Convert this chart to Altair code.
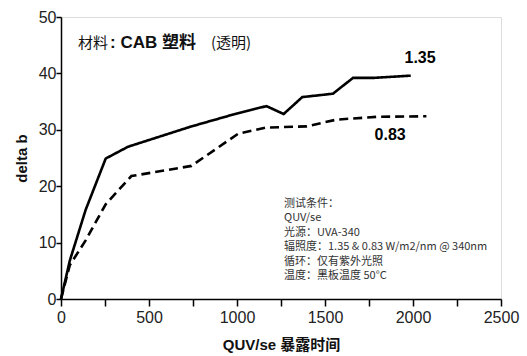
import altair as alt
import pandas as pd

# Exposure hours and yellowing (delta b) at two irradiance levels
hours_135 = [0, 50, 140, 254, 381, 741, 1000, 1167, 1265, 1371, 1545, 1659, 1773, 1987]
delta_135 = [0, 6.8, 15.8, 24.9, 27.0, 30.6, 32.9, 34.2, 32.8, 35.8, 36.4, 39.2, 39.2, 39.6]

hours_083 = [0, 50, 140, 254, 400, 741, 1006, 1167, 1394, 1565, 1792, 2076]
delta_083 = [0, 6.0, 10.4, 16.8, 21.8, 23.6, 29.3, 30.4, 30.6, 31.8, 32.3, 32.4]

x_ticks = [0, 250, 500, 750, 1000, 1250, 1500, 1750, 2000, 2250, 2500]
y_ticks = [0, 10, 20, 30, 40, 50]

series_labels = ["1.35", "0.83"]
series_label_x = [2040, 1870]
series_label_y = [42.8, 29.1]

conditions = [
    "测试条件：",
    "QUV/se",
    "光源：UVA-340",
    "辐照度：1.35 & 0.83 W/m2/nm @ 340nm",
    "循环：仅有紫外光照",
    "温度：黑板温度 50°C",
]

heading_runs = ["材料", ": CAB 塑料 ", "(透明)"]
heading_weights = ["normal", "bold", "normal"]

FONT = "Liberation Sans, Arial, Noto Sans CJK SC, sans-serif"
CJK = "Noto Sans CJK SC, Liberation Sans, sans-serif"

df = pd.concat([
    pd.DataFrame({"hours": hours_135, "delta": delta_135, "irr": "1.35"}),
    pd.DataFrame({"hours": hours_083, "delta": delta_083, "irr": "0.83"}),
])

xs = alt.Scale(domain=[0, 2500], nice=False, zero=False)
ys = alt.Scale(domain=[0, 50], nice=False, zero=False)

x_axis = alt.Axis(
    values=x_ticks, format="d",
    labelExpr="datum.value % 500 == 0 ? datum.label : ''",
    grid=False, tickSize=7, tickWidth=1.5, tickColor="black",
    domainColor="black", domainWidth=1.5,
    labelFont=FONT, labelFontSize=16, labelColor="#222", labelPadding=3,
    labelFlush=False, labelOverlap=False,
    title="QUV/se 暴露时间", titleFont=FONT, titleFontSize=15, titleFontWeight="bold",
    titleColor="#111", titlePadding=12,
)
y_axis = alt.Axis(
    values=y_ticks, format="d", grid=False, tickSize=5, tickWidth=1.5, tickColor="black",
    domainColor="black", domainWidth=1.5,
    labelFont=FONT, labelFontSize=16, labelColor="#222", labelPadding=0,
    labelFlush=False, labelOverlap=False,
    title="delta b", titleFont=FONT, titleFontSize=15, titleFontWeight="bold",
    titleColor="#111", titlePadding=9,
)

lines = alt.Chart(df).mark_line(color="black", strokeWidth=2.6, strokeJoin="miter").encode(
    x=alt.X("hours:Q", scale=xs, axis=x_axis),
    y=alt.Y("delta:Q", scale=ys, axis=y_axis),
    strokeDash=alt.StrokeDash(
        "irr:N",
        scale=alt.Scale(domain=["1.35", "0.83"], range=[[1, 0], [9, 5]]),
        legend=None,
    ),
    detail="irr:N",
)

lbl_df = pd.DataFrame({"t": series_labels, "x": series_label_x, "y": series_label_y})
series_text = alt.Chart(lbl_df).mark_text(
    font=FONT, fontSize=16, fontWeight="bold", color="black", align="center"
).encode(x=alt.X("x:Q", scale=xs), y=alt.Y("y:Q", scale=ys), text="t:N")

# Material heading, built from runs of differing weight
head_layers = []
for t, w, px in zip(heading_runs, heading_weights, [17, 49, 150]):
    head_layers.append(
        alt.Chart(pd.DataFrame({"t": [t]})).mark_text(
            font=CJK if w == "normal" else FONT,
            fontSize=15 if w == "normal" else 17,
            fontWeight=w, color="#111", align="left", baseline="middle",
        ).encode(x=alt.value(px), y=alt.value(26), text="t:N")
    )

# Test-condition block as one multi-line text
cond_text = alt.Chart(pd.DataFrame({"t": ["\n".join(conditions)]})).mark_text(
    font=CJK, fontSize=11, color="#333", align="left", baseline="top",
    lineBreak="\n", lineHeight=14.4,
).encode(x=alt.value(223), y=alt.value(181), text="t:N")

chart = alt.layer(lines, series_text, *head_layers, cond_text).properties(
    width=440, height=282,
    autosize="none",
    padding={"left": 61, "top": 17, "right": 26, "bottom": 57},
).configure_view(stroke="black", strokeWidth=1.5).configure(background="white")

chart.save("out.html", embed_options={"renderer": "svg", "actions": False})
